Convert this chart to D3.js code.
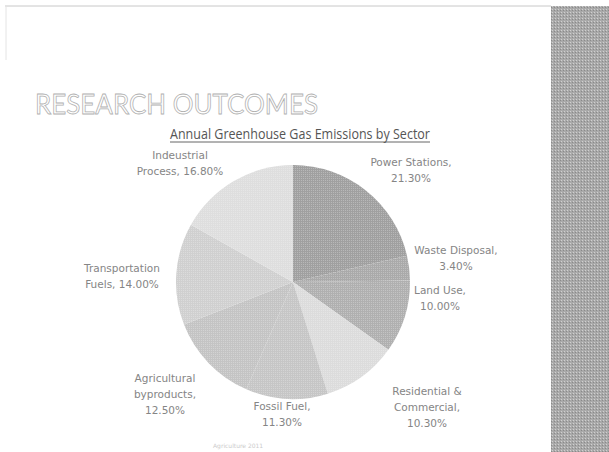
<!DOCTYPE html>
<html><head><meta charset="utf-8">
<script src="https://cdn.jsdelivr.net/npm/d3@7"></script>
<style>body{margin:0;background:#fff}svg{display:block}</style>
</head><body>
<script>
const sectors = ["Power Stations","Waste Disposal","Land Use","Residential & Commercial","Fossil Fuel","Agricultural byproducts","Transportation Fuels","Indeustrial Process"];
const shares = [21.3,3.4,10.0,10.3,11.3,12.5,14.0,16.8];
const labelLines = [["Power Stations,","21.30%"],["Waste Disposal,","3.40%"],["Land Use,","10.00%"],["Residential &","Commercial,","10.30%"],["Fossil Fuel,","11.30%"],["Agricultural","byproducts,","12.50%"],["Transportation","Fuels, 14.00%"],["Indeustrial","Process, 16.80%"]];
const sliceColors = ["#a0a0a0","#aaaaaa","#b0b0b0","#dcdcdc","#c6c6c6","#c4c4c4","#d0d0d0","#dedede"];

const W=609,H=452;
const svg=d3.select("body").append("svg").attr("width",W).attr("height",H);

const defs=svg.append("defs");
const pat=defs.append("pattern").attr("id","dots").attr("width",2).attr("height",2).attr("patternUnits","userSpaceOnUse");
pat.append("rect").attr("width",1).attr("height",1).attr("fill","#fff").attr("opacity",0.25);
const pat2=defs.append("pattern").attr("id","band").attr("width",3).attr("height",3).attr("patternUnits","userSpaceOnUse");
pat2.append("rect").attr("width",3).attr("height",3).attr("fill","#a9a9a9");
pat2.append("rect").attr("width",1).attr("height",1).attr("fill","#d0d0d0");
pat2.append("rect").attr("x",2).attr("y",1).attr("width",1).attr("height",1).attr("fill","#8a8a8a");

// frame
svg.append("line").attr("x1",5).attr("x2",551).attr("y1",6).attr("y2",6).attr("stroke","#c8c8c8");
svg.append("line").attr("x1",6).attr("x2",6).attr("y1",6).attr("y2",60).attr("stroke","#e4e4e4");
svg.append("rect").attr("x",551).attr("y",6).attr("width",58).attr("height",446).attr("fill","url(#band)");

// title
svg.append("text").attr("x",35).attr("y",114).text("RESEARCH OUTCOMES")
  .attr("font-family","Lato, 'Open Sans', sans-serif").attr("font-size",27)
  .attr("textLength",283).attr("lengthAdjust","spacingAndGlyphs")
  .attr("fill","#fff").attr("stroke","#b0b0b0").attr("stroke-width",0.8);

const sub=svg.append("text").attr("x",170).attr("y",139)
  .text("Annual Greenhouse Gas Emissions by Sector")
  .attr("textLength",260).attr("lengthAdjust","spacingAndGlyphs")
  .attr("font-family","'Open Sans', 'DejaVu Sans', sans-serif").attr("font-size",14).attr("fill","#555");
svg.append("line").attr("x1",170).attr("x2",430).attr("y1",142).attr("y2",142).attr("stroke","#666").attr("stroke-width",1);

// pie
const cx=293, cy=282, r=117;
const pie=d3.pie().sort(null).value(d=>d)(shares);
const arc=d3.arc().innerRadius(0).outerRadius(r);
const g=svg.append("g").attr("transform",`translate(${cx},${cy})`);
g.selectAll("path.s").data(pie).join("path").attr("class","s").attr("d",arc).attr("fill",(d,i)=>sliceColors[i]);
g.selectAll("path.t").data(pie).join("path").attr("class","t").attr("d",arc).attr("fill","url(#dots)");

// labels
const labelPos=[[411,166],[456,254],[440,294],[427,395],[282,410],[165,382],[122,272],[180,159]];
const lg=svg.append("g").attr("font-family","'DejaVu Sans', Verdana, sans-serif").attr("font-size",10.5).attr("fill","#858585").attr("text-anchor","middle");
labelLines.forEach((lines,i)=>{
  const t=lg.append("text").attr("x",labelPos[i][0]).attr("y",labelPos[i][1]);
  lines.forEach((l,j)=>t.append("tspan").attr("x",labelPos[i][0]).attr("dy",j?16:0).text(l));
});

// footer
svg.append("text").attr("x",213).attr("y",448).text("Agriculture 2011").attr("font-family","'DejaVu Sans', sans-serif").attr("font-size",6).attr("fill","#ccc");
</script>
</body></html>
